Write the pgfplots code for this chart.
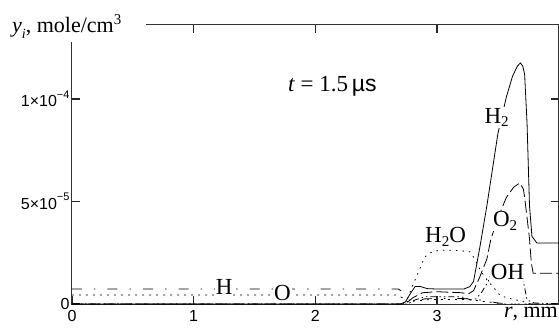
\documentclass[border=0pt]{standalone}
\usepackage{fontspec}
\setmainfont{Liberation Serif}
\newfontfamily\sansf{Liberation Sans}
\usepackage{pgfplots}
\pgfplotsset{compat=1.18}
\newcommand{\lbl}{\fontsize{23}{23}\selectfont}
\newcommand{\sub}[1]{\raisebox{-0.35ex}{\fontsize{15}{15}\selectfont #1}}
\begin{document}
\begin{tikzpicture}
\begin{axis}[
  name=ax, at={(0pt,0pt)}, anchor=south west, scale only axis,
  width=486.7pt, height=279pt,
  xmin=0, xmax=4, ymin=0, ymax=1.361e-4,
  xtick={0,1,2,3}, xticklabels={0,1,2,3},
  ytick={0,5e-5,1e-4},
  yticklabels={0,{5×10\raisebox{1ex}{\fontsize{11}{11}\selectfont −5}},{1×10\raisebox{1ex}{\fontsize{11}{11}\selectfont −4}}},
  tick align=inside, major tick length=8pt,
  every tick/.append style={line width=1.5pt, black!85},
  axis line style={line width=1pt, black!80},
  ticklabel style={font=\sansf\fontsize{16}{16}\selectfont},
  xticklabel style={yshift=-3pt},
  yticklabel style={xshift=1pt},
  scaled y ticks=false,
  every axis plot/.append style={line width=0.8pt, black},
]
% H2 (solid)
\addplot[solid, black, no marks] coordinates {(0,0)(2.70,0)(2.74,1e-6)(2.78,5e-6)(2.82,8.5e-6)(2.86,8.6e-6)(2.92,7.5e-6)(3.0,7.3e-6)(3.22,7.3e-6)(3.27,8.5e-6)(3.30,1.1e-5)(3.35,2.7e-5)(3.41,4.8e-5)(3.50,8.3e-5)(3.57,1.01e-4)(3.62,1.11e-4)(3.66,1.16e-4)(3.685,1.176e-4)(3.705,1.16e-4)(3.72,1.12e-4)(3.74,8.8e-5)(3.76,4.8e-5)(3.78,3.3e-5)(3.82,2.98e-5)(4.0,2.98e-5)};
% O2 (dashed)
\addplot[dash pattern=on 12pt off 4pt] coordinates {(0,0)(2.74,0)(2.80,3e-6)(2.88,5.5e-6)(3.0,6e-6)(3.2,5.5e-6)(3.26,5e-6)(3.30,6.5e-6)(3.35,1.3e-5)(3.41,2.2e-5)(3.44,3.1e-5)(3.50,4.2e-5)(3.57,5.2e-5)(3.63,5.7e-5)(3.68,5.9e-5)(3.71,5.6e-5)(3.72,5.2e-5)(3.76,3.2e-5)(3.775,2e-5)(3.79,1.5e-5)(4.0,1.5e-5)};
% H2O (dotted)
\addplot[dash pattern=on 1.5pt off 5pt] coordinates {(0,0)(2.72,0)(2.76,3e-6)(2.80,9e-6)(2.85,1.6e-5)(2.90,2.3e-5)(2.96,2.55e-5)(3.02,2.62e-5)(3.15,2.62e-5)(3.27,2.55e-5)(3.31,2.2e-5)(3.36,1.6e-5)(3.42,1.1e-5)(3.46,8.5e-6)(3.52,4e-6)(3.62,2.4e-6)(3.72,1e-6)(3.78,0)(4,0)};
% H (dash dot)
\addplot[dash pattern=on 10pt off 12pt on 1.5pt off 12pt] coordinates {(0,7.3e-6)(2.68,7.3e-6)(2.72,6e-6)(2.77,2e-6)(2.82,1.5e-6)(2.9,2.5e-6)(3.1,2.8e-6)(3.3,2.5e-6)(3.4,1.5e-6)(3.5,0.5e-6)(3.6,0)(4,0)};
% O (dotted fine)
\addplot[dash pattern=on 2pt off 5pt] coordinates {(0,4.4e-6)(2.66,4.4e-6)(2.72,3e-6)(2.76,1e-6)(2.82,1.5e-6)(2.95,2.2e-6)(3.25,2.2e-6)(3.35,1.5e-6)(3.45,0.8e-6)(3.55,0)(4,0)};
% OH (dash dot dot)
\addplot[dash pattern=on 6pt off 3pt on 1.5pt off 3pt on 1.5pt off 3pt] coordinates {(0,0)(2.76,0)(2.82,2e-6)(2.9,3.5e-6)(3.2,3.5e-6)(3.28,2e-6)(3.32,2.5e-6)(3.37,6e-6)(3.42,1.1e-5)(3.46,1.7e-5)(3.52,1.9e-5)(3.6,1.8e-5)(3.68,1.4e-5)(3.71,1.1e-5)(3.74,2e-6)(3.8,0.5e-6)(4,0)};
\node[fill=white, inner sep=1pt, font=\lbl] at (axis cs:3.49,9.1e-5) {H\sub{2}};
\node[fill=white, inner sep=1pt, font=\lbl] at (axis cs:3.56,4.05e-5) {O\sub{2}};
\node[fill=white, inner sep=1pt, font=\lbl] at (axis cs:3.07,3.27e-5) {H\sub{2}O};
\node[fill=white, inner sep=1pt, font=\lbl] at (axis cs:3.58,1.56e-5) {OH};
\node[fill=white, inner sep=1pt, font=\lbl] at (axis cs:1.25,8.3e-6) {H};
\node[fill=white, inner sep=1pt, font=\lbl] at (axis cs:1.73,5.4e-6) {O};
\node[font=\lbl] at (axis cs:2.14,1.06e-4) {\textit{t} = 1.5\,{\sansf µs}};
\end{axis}
\fill[white] (-70pt,262pt) rectangle (74pt,300pt);
\node[anchor=base west, inner sep=0pt, font=\fontsize{22}{22}\selectfont] at (-60pt,271pt)
  {\textit{y}\raisebox{-0.5ex}{\fontsize{14}{14}\selectfont\textit{i}}, mole/cm\raisebox{0.8ex}{\fontsize{15}{15}\selectfont 3}};
\node[anchor=base east, inner sep=0pt, font=\fontsize{22}{22}\selectfont] at (486pt,-13pt) {\textit{r}, mm};
\pgfresetboundingbox
\path[use as bounding box] (-72pt,-23pt) rectangle (487pt,304pt);
\end{tikzpicture}
\end{document}
